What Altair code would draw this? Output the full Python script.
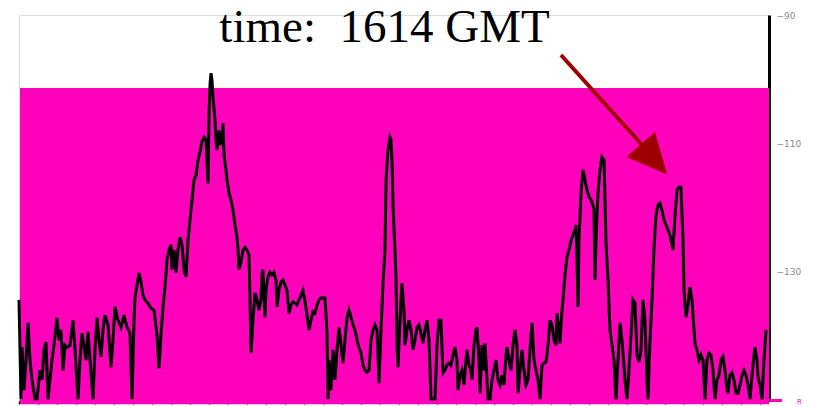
import altair as alt
import pandas as pd

# Trace readings: (frequency bin, level in dB)
seg1 = [(0,-134.5),(2,-150.0),(3,-141.9),(5,-148.6),(7,-143.9),(9,-138.1),(11,-143.9),(13,-147.0),(16,-150.0),(18,-150.0),
(21,-145.5),(23,-147.0),(25,-142.3),(27,-141.1),(29,-150.0),(31,-147.0),(33,-143.9),(35,-141.6),(38,-137.3),(40,-140.8),
(42,-139.2),(44,-145.5),(46,-141.6),(48,-141.9),(51,-141.6),(54,-137.7),(56,-142.3),(59,-150.0),(61,-143.9),(63,-139.7),
(65,-141.6),(67,-143.9),(69,-139.5),(71,-143.9),(74,-150.0),(76,-142.3),(78,-137.3),(80,-140.8),(82,-143.4),(84,-139.2),
(86,-136.9),(89,-138.4),(92,-145.0),(94,-140.8),(96,-135.6),(99,-137.7),(102,-138.8),(105,-136.9),(108,-138.8),(111,-139.7),
(113,-150.0),(115,-137.7),(116,-134.1),(118,-132.2),(120,-130.3),(122,-131.7),(124,-133.8),(126,-134.5),(129,-135.0),(132,-135.8),
(135,-136.1),(138,-140.0),(140,-145.2),(142,-140.0),(144,-135.6),(146,-132.5),(148,-128.3),(150,-126.7),(152,-125.9),(153,-129.8),
(155,-126.7),(157,-130.3),(159,-126.7),(161,-124.7)]

seg2 = [(163,-125.9),(165,-129.8),(167,-130.9),(169,-125.2),(171,-122.0),(173,-118.9),(175,-115.8),(177,-115.0),(179,-112.7),(181,-111.4),
(183,-109.8),(185,-109.1),(187,-109.5),(189,-116.3),(190,-105.6),(191,-100.9),(192,-99.1),(193,-100.2),(194,-102.8),(196,-106.4),
(197,-109.5),(198,-111.1),(200,-108.0),(201,-110.3),(203,-109.5),(204,-106.9),(205,-111.9),(207,-114.2),(208,-115.8),(210,-117.8),
(212,-118.9),(214,-120.5),(216,-122.8),(218,-124.7),(219,-126.7),(220,-129.8),(222,-128.6),(224,-126.7),(226,-126.3),(228,-126.7),
(230,-127.5),(231,-134.5),(232,-142.8),(234,-137.7),(236,-133.4),(238,-134.5),(240,-136.1),(242,-134.5),(243,-130.6),(244,-129.8),
(246,-137.2),(247,-133.0),(249,-130.9),(251,-130.2),(253,-130.6),(255,-130.2),(257,-131.4),(258,-135.6),(260,-133.0),(262,-131.7),
(264,-131.4),(266,-132.2),(268,-133.0),(270,-136.6),(272,-135.3),(274,-134.8),(276,-135.0),(278,-135.3),(280,-134.5),(282,-133.8),
(284,-133.0),(286,-134.8),(288,-136.9),(290,-139.2),(292,-137.7),(294,-136.4),(296,-136.6),(298,-135.3),(300,-134.5),(302,-134.2),
(304,-134.2),(306,-134.2),(308,-139.7)]

seg3 = [(309,-150.0),(310,-143.9),(312,-148.6),(314,-142.3),(316,-147.0),(318,-142.3),(320,-138.8),(322,-141.6),(324,-144.4),(326,-140.8),
(328,-137.3),(330,-136.1),(332,-137.2),(334,-138.4),(336,-139.2),(338,-140.8),(340,-142.0),(342,-142.7),(344,-144.7),(346,-145.5),
(348,-145.8),(350,-145.5),(352,-140.8),(354,-139.2),(356,-138.4),(358,-139.2),(360,-147.5),(362,-139.2),(364,-131.9),(366,-126.7),
(367,-115.8),(369,-111.1),(371,-109.1),(372,-109.5),(373,-112.7),(374,-119.4),(375,-123.6),(376,-126.7),(377,-131.4),(378,-141.3),
(379,-145.0),(381,-137.7),(383,-131.9),(385,-136.1),(386,-141.6),(388,-139.2),(390,-137.7),(392,-139.2),(394,-142.3),(396,-140.8),
(398,-138.8),(400,-138.4),(402,-139.7),(404,-141.3),(406,-139.2),(408,-137.7),(410,-140.8),(412,-150.0),(414,-150.0),(416,-150.0),
(418,-141.6),(420,-137.7),(422,-137.7),(424,-145.9),(426,-145.5),(428,-144.7),(430,-144.4),(432,-144.7),(434,-143.1),(436,-141.9),
(438,-143.9),(439,-148.6),(441,-146.3),(443,-145.5),(445,-147.8),(447,-143.9),(448,-142.3),(450,-144.7),(452,-145.5),(453,-147.0),
(455,-141.6),(457,-139.2),(458,-138.8),(460,-143.9),(461,-149.1)]

seg4 = [(463,-141.6),(465,-145.5),(466,-141.3),(468,-147.0),(469,-150.0),(471,-150.0),(473,-147.0),(475,-145.5),(477,-143.9),(479,-147.0),
(481,-147.8),(483,-146.3),(485,-147.8),(487,-143.1),(488,-141.9),(490,-143.9),(492,-145.5),(494,-141.6),(496,-139.2),(498,-141.6),
(499,-149.1),(501,-145.5),(503,-142.3),(505,-145.5),(507,-147.8),(509,-147.0),(511,-142.3),(513,-138.1),(515,-143.9),(517,-145.5),
(519,-147.0),(521,-150.0),(523,-144.7),(525,-144.4),(527,-144.2),(529,-141.6),(531,-137.7),(533,-138.4),(535,-140.8),(537,-141.6),
(538,-136.6),(540,-139.2),(541,-141.3),(543,-136.1),(544,-134.5),(546,-130.6),(548,-127.8),(550,-126.7),(552,-125.2),(554,-124.4),
(556,-123.6),(557,-122.8),(558,-128.3),(559,-135.6),(560,-125.2),(562,-117.8),(564,-114.2),(566,-115.8),(568,-117.3),(570,-118.4),
(572,-118.9),(574,-119.7),(575,-120.5),(576,-131.4),(577,-125.2),(579,-117.8),(581,-114.2),(583,-112.2),(585,-112.7),(586,-118.9),
(587,-125.6),(589,-131.4),(591,-139.2),(593,-141.6),(595,-143.9),(597,-150.0),(599,-143.9),(601,-138.1),(603,-140.8),(604,-142.8),
(606,-147.0),(608,-150.0),(610,-145.5)]

seg5 = [(612,-140.0),(614,-134.5),(616,-135.0),(618,-143.1),(620,-144.2),(622,-142.3),(624,-134.5),(626,-137.7),(628,-147.0),(629,-150.0),
(631,-140.8),(633,-134.5),(635,-126.3),(637,-121.3),(639,-119.7),(641,-119.4),(643,-120.5),(645,-122.0),(647,-122.8),(649,-123.6),
(651,-124.4),(653,-125.9),(654,-126.7),(656,-121.3),(658,-117.3),(660,-116.9),(662,-116.9),(664,-125.2),(665,-133.0),(667,-137.2),
(669,-135.3),(671,-132.5),(673,-134.5),(675,-139.2),(676,-141.3),(678,-142.3),(680,-143.9),(682,-143.1),(684,-143.9),(686,-150.0),
(688,-143.9),(690,-142.8),(692,-143.1),(694,-145.5),(696,-150.0),(698,-147.0),(700,-146.3),(702,-143.9),(704,-143.4),(706,-145.5),
(708,-148.6),(709,-149.1),(711,-146.3),(713,-145.9),(715,-147.0),(717,-149.1),(719,-149.1),(721,-147.8),(723,-146.3),(725,-145.5),
(727,-146.3),(729,-147.8),(731,-150.0),(733,-146.3),(735,-143.1),(736,-141.9),(738,-143.9),(739,-146.6),(741,-147.8),(743,-150.0),
(745,-143.9),(747,-139.2)]

y_ticks = [-90, -110, -130]
x_ticks = list(range(0, 750, 19))
threshold_db = -101.4
floor_db = -150.8
band_start, band_end = 1, 750
title_text = "time:\u00a0\u00a01614 GMT"
marker_text = "R"

MAGENTA = "#ff00bb"
ARROW = "#9c0000"

trace = pd.DataFrame(seg1 + seg2 + seg3 + seg4 + seg5, columns=["bin", "db"])

xs = alt.Scale(domain=[0, 750], nice=False, zero=False)
ys = alt.Scale(domain=[-150.3, -90], nice=False, zero=False)
x_axis = alt.Axis(values=x_ticks, labels=False, title=None, grid=False,
                  domainColor="black", domainWidth=2, tickColor="black",
                  tickSize=3, tickWidth=1.5)
y_axis = alt.Axis(orient="right", values=y_ticks, title=None, grid=False, ticks=False,
                  domainColor="black", domainWidth=3, labelColor="#8a8a8a",
                  labelFontSize=9, labelFont="DejaVu Sans", labelPadding=7)

band = alt.Chart(pd.DataFrame({"bin": [band_start], "bin2": [band_end],
                               "db": [floor_db], "db2": [threshold_db]})).mark_rect(
    color=MAGENTA, opacity=1
).encode(
    x=alt.X("bin:Q", scale=xs, axis=x_axis), x2="bin2:Q",
    y=alt.Y("db:Q", scale=ys, axis=y_axis), y2="db2:Q",
)

line = alt.Chart(trace).mark_line(color="black", strokeWidth=3, strokeJoin="miter").encode(
    x=alt.X("bin:Q", scale=xs, axis=x_axis),
    y=alt.Y("db:Q", scale=ys, axis=y_axis),
    order="bin:Q",
)

one = pd.DataFrame({"t": [title_text]})
title = alt.Chart(one).mark_text(
    font="Liberation Serif", fontSize=47, align="center", baseline="alphabetic", color="black"
).encode(x=alt.value(365.5), y=alt.value(27), text="t:N")

arrow_shaft = alt.Chart(one).mark_rule(color=ARROW, strokeWidth=4).encode(
    x=alt.value(542), y=alt.value(40), x2=alt.value(624), y2=alt.value(131)
)
arrow_head = alt.Chart(one).mark_point(
    shape="M -1 -0.95 L 1 0 L -1 0.95 Z", size=1600, angle=48.5,
    filled=True, color=ARROW, opacity=1, strokeWidth=0
).encode(x=alt.value(635), y=alt.value(144.5))

tail = alt.Chart(one).mark_rule(color=MAGENTA, strokeWidth=3).encode(
    x=alt.value(751), x2=alt.value(763), y=alt.value(385.5)
)
marker = alt.Chart(pd.DataFrame({"t": [marker_text]})).mark_text(
    font="DejaVu Sans", fontSize=7, align="left", baseline="middle", color=MAGENTA
).encode(x=alt.value(778), y=alt.value(387), text="t:N")

chart = alt.layer(band, line, arrow_shaft, arrow_head, title, tail, marker).properties(
    width=750, height=386, autosize="none",
    padding={"left": 11, "top": 7, "right": 36, "bottom": 8},
).configure_view(stroke=None).configure(background="white")

chart.save("out.html", embed_options={"renderer": "svg", "actions": False})
